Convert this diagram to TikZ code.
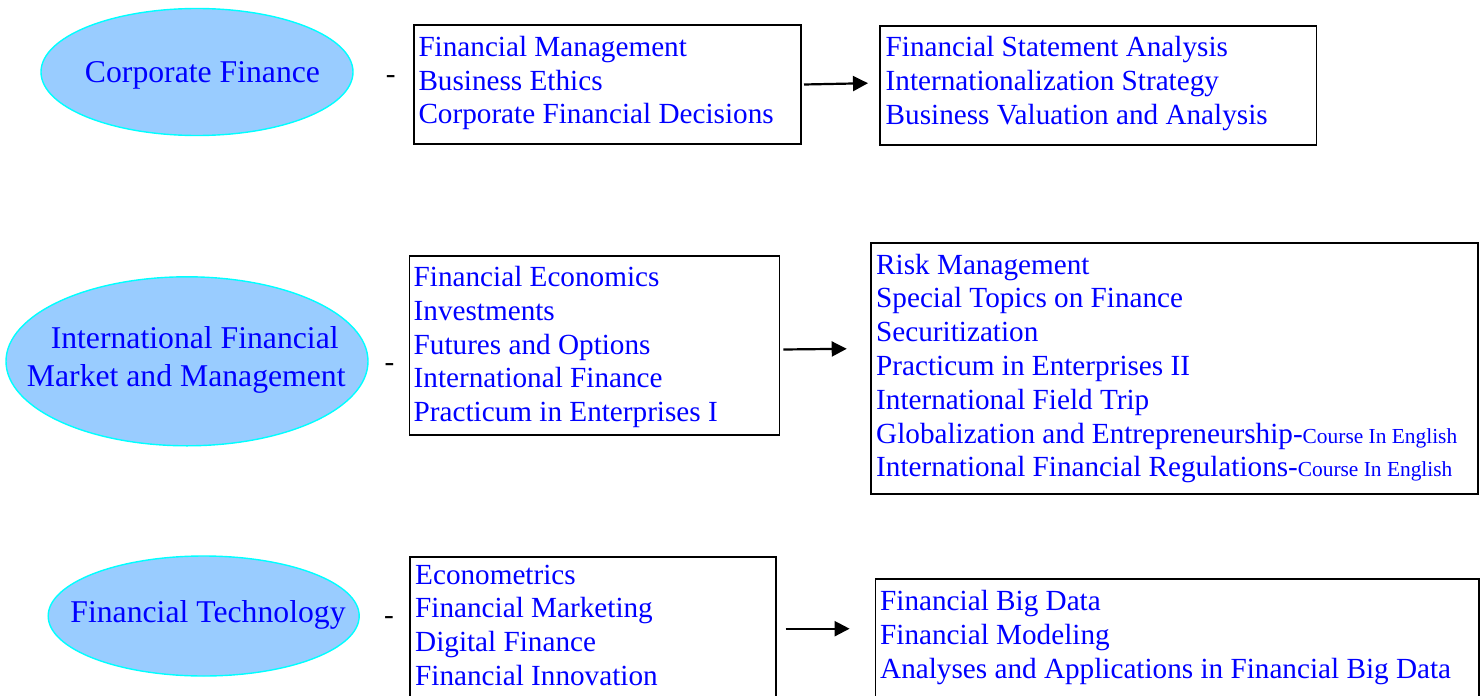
\documentclass[tikz,border=0pt]{standalone}
\usepackage{fontspec}
\setmainfont{Liberation Serif}
\usetikzlibrary{arrows.meta,shapes.geometric}
\definecolor{txtblue}{RGB}{0,0,255}
\definecolor{ellfill}{RGB}{153,204,255}
\definecolor{ellline}{RGB}{0,255,255}
\begin{document}
\begin{tikzpicture}[x=1pt,y=-1pt,
  oval/.style={ellipse, draw=ellline, fill=ellfill, line width=1.4pt, inner sep=0pt},
  ovaltext/.style={anchor=base, inner sep=0pt, text=txtblue, font=\fontsize{31.7}{38.4}\selectfont},
  box/.style={draw=black, line width=1.5pt, anchor=north west, inner sep=0pt},
  boxtext/.style={anchor=base west, inner sep=0pt, text=txtblue, text width=620pt, align=flush left, font=\fontsize{29.2}{33.8}\selectfont},
  dashmark/.style={anchor=base, inner sep=0pt, font=\fontsize{29.2}{33.8}\selectfont},
  arr/.style={line width=2.2pt, -{Triangle[length=15pt,width=15pt]}},
]
\useasboundingbox (0,0) rectangle (1484,696);
\clip (0,0) rectangle (1484,696);

% ---- Row 1: Corporate Finance
\node[oval, minimum width=312pt, minimum height=127pt] (e1) at (197,72) {};
\node[ovaltext] (e1t) at (202.5,82.3) {Corporate Finance};
\node[dashmark] (d1) at (390.7,83.9) {-};
\node[box, minimum width=387pt, minimum height=119pt] (boxA1) at (413,24) {};
\node[boxtext] (tA1) at (418.3,56.3) {Financial Management\\Business Ethics\\Corporate Financial Decisions};
\node[box, minimum width=436.5pt, minimum height=119pt] (boxA2) at (879,25) {};
\node[boxtext] (tA2) at (885.5,56.5) {Financial Statement Analysis\\Internationalization Strategy\\Business Valuation and Analysis};
\coordinate (a1s) at (804,84.5);
\coordinate (a1e) at (868,83.2);
\draw[arr] (a1s) -- (a1e);

% ---- Row 2: International Financial Market and Management
\node[oval, minimum width=362pt, minimum height=169pt] (e2) at (187,361.3) {};
\node[ovaltext, text width=340pt, align=flush center] (e2t) at (186.3,348.3) {\hspace*{16.8pt}International Financial\\Market and Management};
\node[dashmark] (d2) at (389.5,371.6) {-};
\node[box, minimum width=370pt, minimum height=179pt] (boxB1) at (408.5,255) {};
\node[boxtext] (tB1) at (413.5,286.5) {Financial Economics\\Investments\\Futures and Options\\International Finance\\Practicum in Enterprises I};
\node[box, minimum width=607pt, minimum height=251pt] (boxB2) at (870,242) {};
\node[boxtext] (tB2) at (876,274.1) {Risk Management\\Special Topics on Finance\\Securitization\\Practicum in Enterprises II\\International Field Trip\\Globalization and Entrepreneurship-{\fontsize{21.4}{24}\selectfont Course In English}\\International Financial Regulations-{\fontsize{21.4}{24}\selectfont Course In English}};
\coordinate (b1s) at (783.3,349.5);
\coordinate (b1e) at (846.7,348.8);
\draw[arr] (b1s) -- (b1e);

% ---- Row 3: Financial Technology
\node[oval, minimum width=311pt, minimum height=120pt] (e3) at (203.7,616) {};
\node[ovaltext] (e3t) at (208,622.3) {Financial Technology};
\node[dashmark] (d3) at (389,624) {-};
\node[box, minimum width=366pt, minimum height=170pt] (boxC1) at (409,556) {};
\node[boxtext] (tC1) at (415,584) {Econometrics\\Financial Marketing\\Digital Finance\\Financial Innovation};
\node[box, minimum width=603.5pt, minimum height=150pt] (boxC2) at (874.5,578) {};
\node[boxtext] (tC2) at (880,610.5) {Financial Big Data\\Financial Modeling\\Analyses and Applications in Financial Big Data};
\coordinate (c1s) at (785.5,628.7);
\coordinate (c1e) at (849.6,628.7);
\draw[arr] (c1s) -- (c1e);
\end{tikzpicture}
\end{document}
